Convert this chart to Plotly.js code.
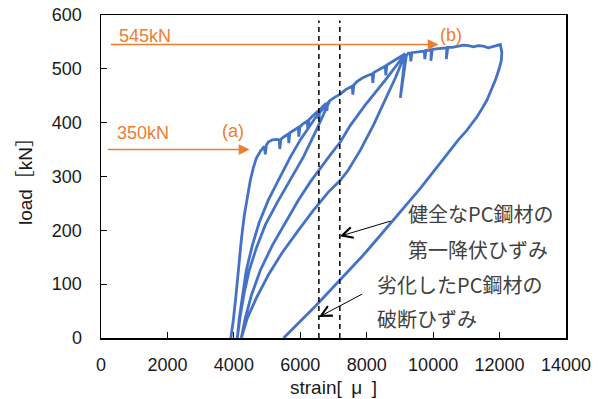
<!DOCTYPE html>
<html>
<head>
<meta charset="utf-8">
<script src="https://cdn.plot.ly/plotly-3.0.1.min.js"></script>
<style>
  html, body { margin: 0; padding: 0; background: #fff; }
  #chart { width: 599px; height: 399px; }
</style>
</head>
<body>
<div id="chart"></div>
<script>
// Load–strain record of the PC strand under cyclic loading, split by stage.
// Virgin loading up to the first unloading point (with small slip drops)
const loadingAStrain = [3908, 3984, 4059, 4134, 4224, 4315, 4405, 4496, 4586, 4676, 4797, 4917, 4947, 4977, 5037, 5158, 5308, 5368, 5384, 5414, 5489, 5610, 5640, 5655, 5685, 5760, 5911, 5941, 5956, 5986, 6061, 6182, 6212, 6227, 6258, 6332, 6483, 6543, 6558, 6588, 6663, 6754, 6784, 6799, 6829, 6889];
const loadingALoad   = [0, 33, 76, 126, 182, 228, 265, 293, 316, 334, 347, 356, 341, 358, 364, 368, 369, 368, 351, 369, 373, 379, 379, 362, 381, 384, 390, 391, 374, 392, 397, 403, 403, 387, 405, 410, 420, 422, 407, 424, 429, 435, 436, 422, 437, 441];
// First unloading and reloading
const unload1Strain = [6453, 6001, 5700, 5339, 5037, 4766, 4556, 4375, 4255, 4164, 4104];
const unload1Load   = [409, 368, 336, 293, 256, 215, 172, 126, 79, 37, 0];
const reload1Strain = [4194, 4315, 4465, 4676, 4947, 5308, 5700, 6091, 6483, 6889];
const reload1Load   = [42, 85, 126, 167, 210, 252, 293, 336, 386, 441];
// Loading up to the second unloading point
const loadingBStrain = [7055, 7205, 7356, 7507, 7567, 7582, 7612, 7717, 7868, 8048, 8169, 8184, 8214, 8350, 8500, 8560, 8575, 8605, 8681, 8832, 8982, 9162];
const loadingBLoad   = [448, 453, 461, 467, 468, 452, 470, 477, 483, 488, 491, 474, 493, 498, 503, 505, 488, 507, 510, 516, 522, 528];
// Second unloading and reloading
const unload2Strain = [8560, 7958, 7507, 7206, 6904, 6573, 6302, 5941, 5550, 5158, 4797, 4526, 4345, 4224];
const unload2Load   = [479, 433, 395, 364, 340, 312, 290, 256, 215, 172, 126, 79, 37, 0];
const reload2Strain = [4405, 4676, 5037, 5459, 5941, 6393, 6844, 7205, 7446, 7808, 8199, 8560, 8861, 9162];
const reload2Load   = [37, 74, 117, 159, 200, 237, 271, 293, 312, 349, 395, 442, 483, 528];
// Partial drop, then loading to the maximum load
const loadingCStrain = [9012, 9192, 9253, 9313, 9328, 9358, 9494, 9644, 9735, 9750, 9780, 9915, 9946, 9930, 9976, 10096, 10247, 10397, 10412, 10397, 10442, 10578, 10758, 10909, 11059, 11210, 11361, 11511, 11662, 11812, 11933, 12023];
const loadingCLoad   = [446, 524, 529, 529, 514, 530, 531, 532, 533, 518, 534, 535, 535, 515, 536, 537, 538, 539, 539, 518, 540, 540, 542, 544, 543, 541, 543, 542, 539, 541, 543, 545];
// Final unloading
const unload3Strain = [12068, 12053, 11993, 11873, 11722, 11622, 11481, 11321, 11150, 11020, 10759, 10518, 10216, 9915, 9614, 9313, 9012, 8762, 8410, 8109, 7808, 7356, 6904, 6453, 6001, 5498];
const unload3Load   = [531, 516, 501, 479, 457, 442, 427, 411, 397, 386, 368, 349, 325, 301, 278, 256, 234, 215, 191, 169, 148, 118, 89, 59, 31, 0];

// Reference strains (vertical dashed lines)
const ruptureStrainDegraded = 6560;
const yieldStrainSound = 7190;
const refLineTop = 590;

// Load levels marked with arrows
const loadLevels = [545, 350];
const loadLevelLabels = ['545kN', '350kN'];
const loadArrowFrom = [250, 160];
const loadArrowTo = [10165, 4474];
const stageLabels = ['(b)', '(a)'];
const stageLabelStrain = [10548, 3968];

const strain = [].concat(loadingAStrain, unload1Strain, reload1Strain, loadingBStrain,
  unload2Strain, reload2Strain, loadingCStrain, unload3Strain);
const load = [].concat(loadingALoad, unload1Load, reload1Load, loadingBLoad,
  unload2Load, reload2Load, loadingCLoad, unload3Load);

const FONT = "'Liberation Sans', 'Noto Sans CJK JP', sans-serif";
const CJK = "'Noto Sans CJK JP', sans-serif";
const ORANGE = '#ED7D31';
const TEXT = '#404040';

const traces = [
  {
    x: strain, y: load, type: 'scatter', mode: 'lines',
    line: { color: '#4472C4', width: 2.8 }, hoverinfo: 'skip'
  },
  {
    x: [ruptureStrainDegraded, ruptureStrainDegraded], y: [0, refLineTop],
    type: 'scatter', mode: 'lines',
    line: { color: '#000', width: 1.5, dash: '5px,4px' }, hoverinfo: 'skip'
  },
  {
    x: [yieldStrainSound, yieldStrainSound], y: [0, refLineTop],
    type: 'scatter', mode: 'lines',
    line: { color: '#000', width: 1.5, dash: '5px,4px' }, hoverinfo: 'skip'
  }
];

const annotations = [];
loadLevels.forEach((lv, i) => {
  // orange arrow at the load level
  annotations.push({
    x: loadArrowTo[i], y: lv, ax: loadArrowFrom[i], ay: lv,
    xref: 'x', yref: 'y', axref: 'x', ayref: 'y',
    text: '', showarrow: true, arrowhead: 2, arrowsize: 1.45, arrowwidth: 1.5,
    arrowcolor: ORANGE, standoff: 0
  });
  annotations.push({
    x: [1334, 1274][i], y: [561, 381][i], xref: 'x', yref: 'y',
    text: loadLevelLabels[i], showarrow: false,
    font: { family: FONT, size: 18, color: ORANGE }
  });
  annotations.push({
    x: stageLabelStrain[i], y: [563, 385][i], xref: 'x', yref: 'y',
    text: stageLabels[i], showarrow: false,
    font: { family: FONT, size: 18, color: ORANGE }
  });
});

// Notes pointing at the reference strains
const notes = [
  { text: '健全なPC鋼材の', x: 9193, y: 231 },
  { text: '第一降伏ひずみ', x: 9193, y: 165 },
  { text: '劣化したPC鋼材の', x: 8259, y: 99 },
  { text: '破断ひずみ', x: 8259, y: 37 }
];
notes.forEach(n => annotations.push({
  x: n.x, y: n.y, xref: 'x', yref: 'y', xanchor: 'left', yanchor: 'middle',
  text: n.text, showarrow: false, font: { family: CJK, size: 20, color: TEXT }
}));
annotations.push({
  x: yieldStrainSound, y: 189, ax: 8762, ay: 218,
  xref: 'x', yref: 'y', axref: 'x', ayref: 'y',
  text: '', showarrow: true, arrowhead: 5, arrowsize: 2.1, arrowwidth: 1,
  arrowcolor: '#000', standoff: 0
});
annotations.push({
  x: ruptureStrainDegraded, y: 39, ax: 7907, ay: 83,
  xref: 'x', yref: 'y', axref: 'x', ayref: 'y',
  text: '', showarrow: true, arrowhead: 5, arrowsize: 2.1, arrowwidth: 1,
  arrowcolor: '#000', standoff: 0
});

const axisCommon = {
  showline: true, linecolor: '#000', linewidth: 1.5, mirror: true,
  showgrid: false, zeroline: false, ticks: 'inside', ticklen: 6,
  tickwidth: 1.2, tickcolor: '#000', tickformat: 'd',
  tickfont: { family: FONT, size: 18, color: '#1a1a1a' }
};

const layout = {
  width: 599, height: 399,
  margin: { l: 101, r: 33, t: 15, b: 61 },
  paper_bgcolor: '#fff', plot_bgcolor: '#fff',
  showlegend: false,
  font: { family: FONT, size: 18, color: '#1a1a1a' },
  xaxis: Object.assign({}, axisCommon, {
    range: [0, 14000], tick0: 0, dtick: 2000, ticklabelstandoff: 10,
    title: { text: 'strain[\u2002μ\u2002]', font: { family: FONT, size: 19, color: '#1a1a1a' }, standoff: 6 }
  }),
  yaxis: Object.assign({}, axisCommon, {
    range: [0, 600], tick0: 0, dtick: 100, ticklabelstandoff: 14,
    title: { text: 'load［kN］', font: { family: FONT, size: 19, color: '#1a1a1a' }, standoff: 14 }
  }),
  annotations: annotations
};

Plotly.newPlot('chart', traces, layout, { displayModeBar: false, staticPlot: true });
</script>
</body>
</html>
